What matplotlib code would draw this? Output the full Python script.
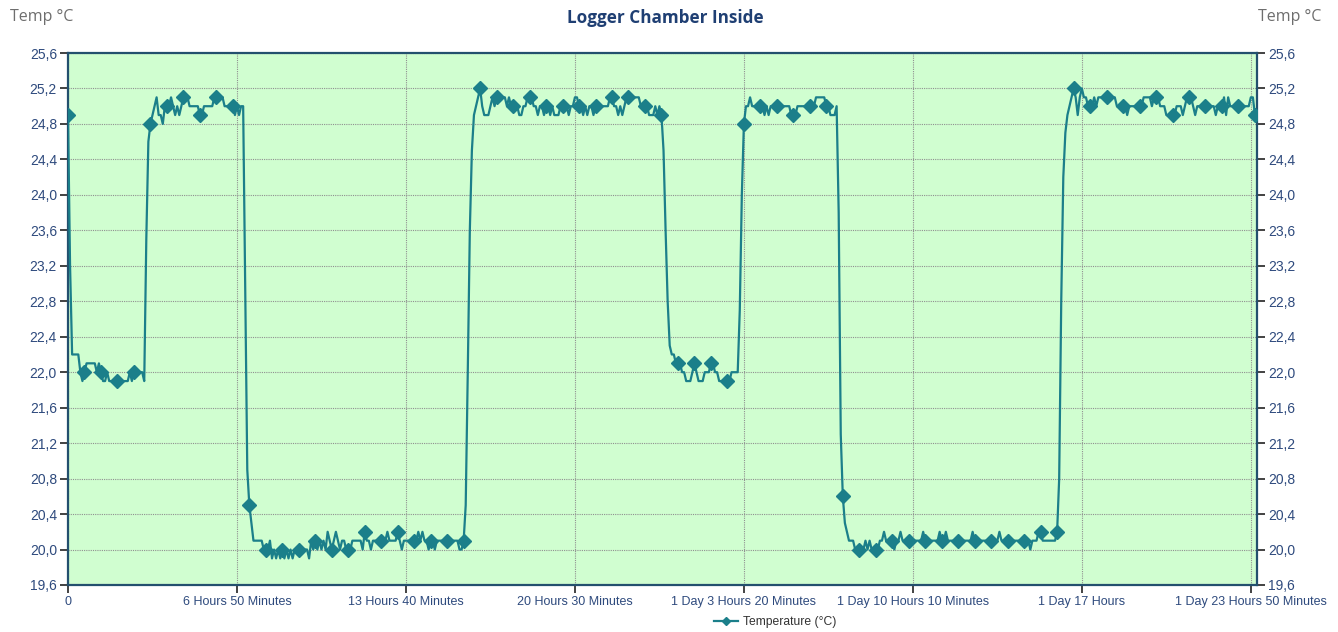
import numpy as np
import matplotlib
matplotlib.use("Agg")
import matplotlib.pyplot as plt
from matplotlib.lines import Line2D

# logger samples every 5 minutes, a marker every 8th sample (40 min)
sample_step_min = 5
marker_every = 8

# cold start, first warm phase
phase_a = [24.9, 23.2, 22.2, 22.2, 22.2, 22.2, 22.0, 21.9,
           22.0, 22.1, 22.1, 22.1, 22.1, 22.1, 22.0, 22.1,
           22.0, 21.9, 21.9, 22.0, 21.9, 21.9, 21.9, 21.9,
           21.9, 21.9, 21.9, 21.9, 21.9, 21.9, 22.0, 21.9,
           22.0, 22.0, 22.0, 22.0, 22.0, 21.9, 23.5, 24.6]
phase_b = [24.8, 24.9, 25.0, 25.1, 24.9, 24.9, 24.8, 25.0,
           25.0, 25.0, 25.1, 25.0, 24.9, 25.0, 24.9, 25.0,
           25.1, 25.1, 25.1, 25.0, 25.0, 25.0, 25.0, 25.0,
           24.9, 24.9, 25.0, 25.0, 25.0, 25.0, 25.0, 25.1,
           25.1, 25.1, 25.1, 25.1, 25.0, 25.0, 25.0, 25.0,
           25.0, 24.9, 25.0, 24.9, 25.0, 25.0, 23.0, 20.9]
phase_c = [20.5, 20.3, 20.1, 20.1, 20.1, 20.1, 20.1, 20.0,
           20.0, 20.0, 20.1, 19.9, 20.0, 19.9, 20.0, 19.9,
           20.0, 19.9, 20.0, 19.9, 20.0, 19.9, 20.0, 20.0,
           20.0, 20.0, 20.0, 20.0, 20.0, 19.9, 20.1, 20.0,
           20.1, 20.0, 20.1, 20.0, 20.1, 20.0, 20.2, 20.1,
           20.0, 20.1, 20.2, 20.1, 20.0, 20.1, 20.1, 20.0,
           20.0, 20.0, 20.1, 20.1, 20.1, 20.1, 20.1, 20.0,
           20.2, 20.1, 20.1, 20.0, 20.1, 20.1, 20.1, 20.1,
           20.1, 20.1, 20.1, 20.2, 20.1, 20.1, 20.1, 20.1,
           20.2, 20.1, 20.0, 20.1, 20.1, 20.1, 20.1, 20.1,
           20.1, 20.1, 20.2, 20.1, 20.2, 20.1, 20.1, 20.0,
           20.1, 20.1, 20.0, 20.1, 20.1, 20.1, 20.1, 20.1,
           20.1, 20.1, 20.1, 20.1, 20.1, 20.1, 20.0, 20.0]
phase_d = [20.1, 20.5, 22.0, 23.6, 24.5, 24.9, 25.0, 25.1,
           25.2, 25.0, 24.9, 24.9, 24.9, 25.0, 25.1, 25.0,
           25.1, 25.1, 25.1, 25.1, 25.1, 25.0, 25.1, 25.0,
           25.0, 25.0, 25.0, 24.9, 24.9, 25.0, 25.0, 25.1,
           25.1, 25.1, 25.0, 25.0, 24.9, 25.0, 25.0, 24.9,
           25.0, 25.0, 24.9, 25.0, 24.9, 24.9, 24.9, 25.0,
           25.0, 25.0, 25.0, 24.9, 25.0, 25.0, 25.1, 25.1,
           25.0, 25.0, 24.9, 25.0, 24.9, 25.0, 25.0, 24.9,
           25.0, 25.0, 25.0, 25.0, 25.0, 25.0, 25.0, 25.1,
           25.1, 25.0, 25.0, 24.9, 25.0, 24.9, 25.0, 25.1,
           25.1, 25.1, 25.1, 25.1, 25.1, 25.1, 25.0, 25.0,
           25.0, 25.0, 24.9, 24.9, 24.9, 25.0, 24.9, 25.0]
phase_e = [24.9, 24.5, 23.6, 22.8, 22.3, 22.2, 22.2, 22.1,
           22.1, 22.1, 22.0, 22.0, 21.9, 21.9, 21.9, 22.0,
           22.1, 22.0, 21.9, 21.9, 21.9, 22.0, 22.0, 22.0,
           22.1, 22.1, 22.0, 22.0, 21.9, 21.9, 21.9, 21.9,
           21.9, 21.9, 22.0, 22.0, 22.0, 22.0, 22.7, 24.0]
phase_f = [24.8, 25.0, 25.0, 25.1, 25.0, 25.0, 25.0, 25.0,
           25.0, 25.0, 24.9, 25.0, 24.9, 25.0, 25.0, 25.0,
           25.0, 25.0, 25.0, 25.0, 25.0, 25.0, 25.0, 24.9,
           24.9, 24.9, 25.0, 25.0, 25.0, 25.0, 25.0, 25.0,
           25.0, 25.0, 25.0, 25.1, 25.1, 25.1, 25.1, 25.1,
           25.0, 25.0, 24.9, 24.9, 24.9, 25.0, 23.8, 21.3]
phase_g = [20.6, 20.3, 20.2, 20.1, 20.1, 20.1, 20.0, 20.0,
           20.0, 20.0, 20.0, 20.1, 20.0, 20.1, 20.0, 20.0,
           20.0, 20.0, 20.1, 20.1, 20.2, 20.1, 20.1, 20.1,
           20.1, 20.0, 20.1, 20.1, 20.2, 20.1, 20.1, 20.1,
           20.1, 20.1, 20.1, 20.1, 20.1, 20.1, 20.1, 20.2,
           20.1, 20.1, 20.1, 20.1, 20.1, 20.1, 20.1, 20.2,
           20.1, 20.1, 20.2, 20.1, 20.1, 20.1, 20.1, 20.1,
           20.1, 20.1, 20.1, 20.1, 20.1, 20.1, 20.1, 20.2,
           20.1, 20.1, 20.1, 20.1, 20.1, 20.1, 20.1, 20.1,
           20.1, 20.1, 20.1, 20.1, 20.2, 20.1, 20.1, 20.1,
           20.1, 20.1, 20.1, 20.1, 20.1, 20.1, 20.1, 20.1,
           20.1, 20.1, 20.1, 20.0, 20.1, 20.1, 20.1, 20.2,
           20.2, 20.1, 20.1, 20.1, 20.1, 20.1, 20.1, 20.1]
phase_h = [20.2, 20.8, 22.8, 24.2, 24.7, 24.9, 25.0, 25.1,
           25.2, 25.1, 24.9, 25.1, 25.2, 25.1, 25.1, 25.0,
           25.0, 25.0, 25.1, 25.0, 25.1, 25.1, 25.1, 25.1,
           25.1, 25.1, 25.1, 25.1, 25.1, 25.0, 25.0, 25.0,
           25.0, 25.0, 24.9, 25.0, 25.0, 25.0, 25.0, 25.0,
           25.0, 25.0, 25.1, 25.1, 25.1, 25.1, 25.0, 25.1,
           25.1, 25.1, 25.0, 25.0, 25.0, 24.9, 24.9, 24.9,
           24.9, 24.9, 25.0, 25.0, 25.0, 24.9, 25.0, 25.1,
           25.1, 25.1, 25.0, 24.9, 25.0, 25.0, 25.0, 25.0,
           25.0, 25.0, 25.0, 25.0, 25.0, 24.9, 25.0, 25.0,
           25.0, 25.1, 24.9, 25.1, 25.0, 25.0, 25.0, 25.0,
           25.0, 25.0, 25.0, 25.0, 25.0, 25.0, 25.1, 25.1,
           24.9]

x_tick_minutes = [0, 410, 820, 1230, 1640, 2050, 2460, 2870]
x_tick_labels = ["0", "6 Hours 50 Minutes", "13 Hours 40 Minutes",
                 "20 Hours 30 Minutes", "1 Day 3 Hours 20 Minutes",
                 "1 Day 10 Hours 10 Minutes", "1 Day 17 Hours",
                 "1 Day 23 Hours 50 Minutes"]
y_ticks = [19.6, 20.0, 20.4, 20.8, 21.2, 21.6, 22.0, 22.4,
           22.8, 23.2, 23.6, 24.0, 24.4, 24.8, 25.2, 25.6]

temperature = phase_a + phase_b + phase_c + phase_d + phase_e + phase_f + phase_g + phase_h
minutes = np.arange(len(temperature)) * sample_step_min

line_color = "#1b7f8a"
axis_color = "#23506e"
label_color = "#2e4a7d"

plt.rcParams["font.family"] = ["Liberation Sans", "DejaVu Sans"]

fig = plt.figure(figsize=(13.38, 6.32), dpi=100)
ax = fig.add_axes([68 / 1338, 47 / 632, 1189 / 1338, 532 / 632])
ax.set_facecolor("#d0fed0")

ax.plot(minutes, temperature, color=line_color, lw=1.6, marker="D",
        markevery=marker_every, ms=7, zorder=3)

ax.set_xlim(0, 2885)
ax.set_ylim(19.6, 25.6)
ax.set_xticks(x_tick_minutes)
ax.set_xticklabels(x_tick_labels)
ax.set_yticks(y_ticks)
ax.set_yticklabels([f"{v:.1f}".replace(".", ",") for v in y_ticks])

ax.grid(True, linestyle=(0, (1, 1)), color="#909090", lw=0.8)
ax.set_axisbelow(True)

for s in ax.spines.values():
    s.set_color(axis_color)
    s.set_linewidth(1.6)

ax.tick_params(axis="y", which="both", left=True, right=True,
               labelleft=True, labelright=True, direction="out",
               length=6, width=1.2, color="#222222",
               labelsize=10, labelcolor=label_color, pad=2)
ax.tick_params(axis="x", direction="out", length=6, width=1.2,
               color="#222222", labelsize=9, labelcolor=label_color, pad=2)

fig.text(665 / 1338, 1 - 18 / 632, "Logger Chamber Inside", ha="center",
         va="center", fontsize=12.3, fontweight="bold", color="#1f3f73",
         family=["Open Sans", "DejaVu Sans"])
fig.text(10 / 1338, 1 - 17 / 632, "Temp °C", ha="left", va="center",
         fontsize=11.5, color="#6e6e6e", family=["Open Sans", "DejaVu Sans"])
fig.text(1321 / 1338, 1 - 17 / 632, "Temp °C", ha="right", va="center",
         fontsize=11.5, color="#6e6e6e", family=["Open Sans", "DejaVu Sans"])

handle = Line2D([], [], color=line_color, lw=1.6, marker="D", ms=4)
fig.legend([handle], ["Temperature (°C)"], loc="center left",
           bbox_to_anchor=(703 / 1338, 1 - 622 / 632), frameon=False,
           fontsize=8.7, handlelength=2.0, handletextpad=0.4,
           labelcolor="#333333")

fig.savefig("out.png", dpi=100, facecolor="white")
